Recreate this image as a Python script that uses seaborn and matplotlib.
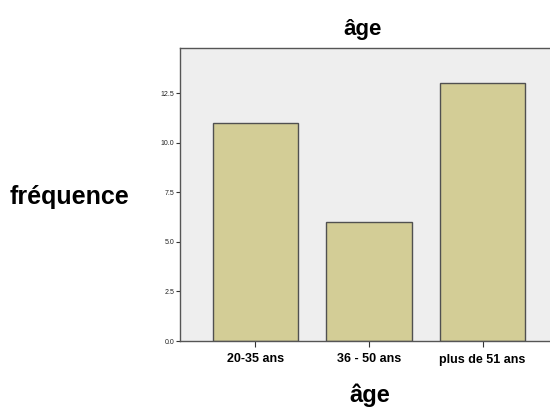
import matplotlib
matplotlib.use("Agg")
import matplotlib.pyplot as plt
import seaborn as sns
import pandas as pd

categories = ["20-35 ans", "36 - 50 ans", "plus de 51 ans"]
counts = [11, 6, 13]
yticks = [0, 2.5, 5, 7.5, 10, 12.5]

sns.set_theme(style="white")
plt.rcParams['font.family'] = ['Liberation Sans', 'DejaVu Sans']
plt.rcParams['text.color'] = 'black'
plt.rcParams['xtick.color'] = 'black'
plt.rcParams['ytick.color'] = 'black'

df = pd.DataFrame({"age": categories, "freq": counts})

fig = plt.figure(figsize=(5.5, 4.08), dpi=100)
W, H = 550, 408
left, right, top, bottom = 180, 558, 48, 341
ax = fig.add_axes([left / W, 1 - bottom / H, (right - left) / W, (bottom - top) / H])
ax.set_facecolor("#eeeeee")

sns.barplot(data=df, x="age", y="freq", ax=ax, color="#d3cd96", width=0.75,
            edgecolor="#505050", linewidth=1.0, saturation=1)

ax.set_xlim(-0.665, 2.665)
ax.set_ylim(0, 14.77)
ax.set_yticks(yticks)
ax.set_yticklabels([f"{v:.1f}" for v in yticks], fontsize=5, color="#222222")
ax.set_xticks(range(len(categories)))
ax.set_xticklabels(categories, fontsize=9, fontweight="bold", color="black")
ax.tick_params(axis="y", direction="out", length=3, width=0.8, color="#333333", pad=1, left=True)
ax.tick_params(axis="x", direction="out", length=4, width=0.8, color="#333333", pad=5, bottom=True)
ax.set_xlabel("")
ax.set_ylabel("")
for s in ax.spines.values():
    s.set_color("#555555")
    s.set_linewidth(1.0)

fig.text(363 / W, 1 - 29 / H, "âge", ha="center", va="center", fontsize=16, fontweight="bold", color="black")
fig.text(370 / W, 1 - 395 / H, "âge", ha="center", va="center", fontsize=17, fontweight="bold", color="black")
fig.text(70 / W, 1 - 197 / H, "fréquence", ha="center", va="center", fontsize=18, fontweight="bold", color="black")

fig.savefig("out.png", dpi=100)
